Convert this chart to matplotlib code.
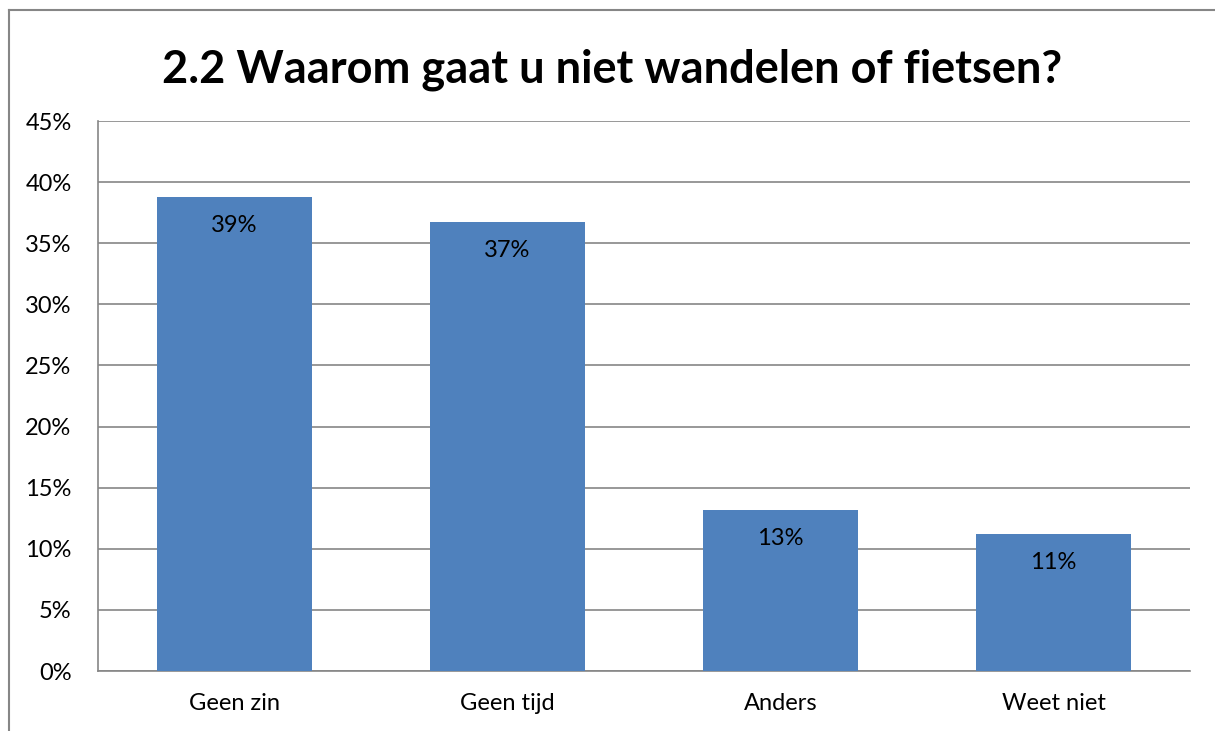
import matplotlib.pyplot as plt
import numpy as np
from matplotlib.lines import Line2D
from matplotlib.ticker import FuncFormatter

categories = ['Geen zin', 'Geen tijd', 'Anders', 'Weet niet']
values = [38.8, 36.7, 13.2, 11.2]
labels = ['39%', '37%', '13%', '11%']

plt.rcParams['font.family'] = ['Lato', 'DejaVu Sans']

fig = plt.figure(figsize=(12.15, 7.31), dpi=100)
ax = fig.add_axes([98/1215, 60/731, 1092/1215, 550/731])

ind = np.arange(len(categories))
rects = ax.bar(ind, values, 0.57, color='#4F81BD', zorder=3)

ax.set_xlim(-0.5, len(categories) - 0.5)
ax.set_ylim(0, 45)
ax.set_yticks(np.arange(0, 46, 5))
ax.yaxis.set_major_formatter(FuncFormatter(lambda v, p: '%d%%' % v))
ax.set_xticks(ind)
ax.set_xticklabels(categories)
ax.grid(axis='y', color='#868686', linewidth=1.2, zorder=0)
for s in ['top', 'right']:
    ax.spines[s].set_visible(False)
ax.spines['left'].set_color('#868686')
ax.spines['bottom'].set_color('#868686')
ax.spines['left'].set_linewidth(1.2)
ax.spines['bottom'].set_linewidth(1.2)
ax.tick_params(axis='y', length=0, pad=19, labelsize=17)
ax.tick_params(axis='x', length=0, pad=16, labelsize=17)

for rect, lab in zip(rects, labels):
    ax.annotate(lab, (rect.get_x() + rect.get_width() / 2, rect.get_height()),
                xytext=(0, -13), textcoords='offset points',
                ha='center', va='top', fontsize=17)

fig.text(612/1215, 1 - 70/731, '2.2 Waarom gaat u niet wandelen of fietsen?',
         ha='center', va='center', fontsize=32.5, fontweight='bold')

# outer chart frame
fig.add_artist(Line2D([9/1215, 9/1215], [0, 1 - 10/731], color='#868686', lw=1.5))
fig.add_artist(Line2D([9/1215, 1], [1 - 10/731, 1 - 10/731], color='#868686', lw=1.5))

fig.savefig('out.png', dpi=100)
